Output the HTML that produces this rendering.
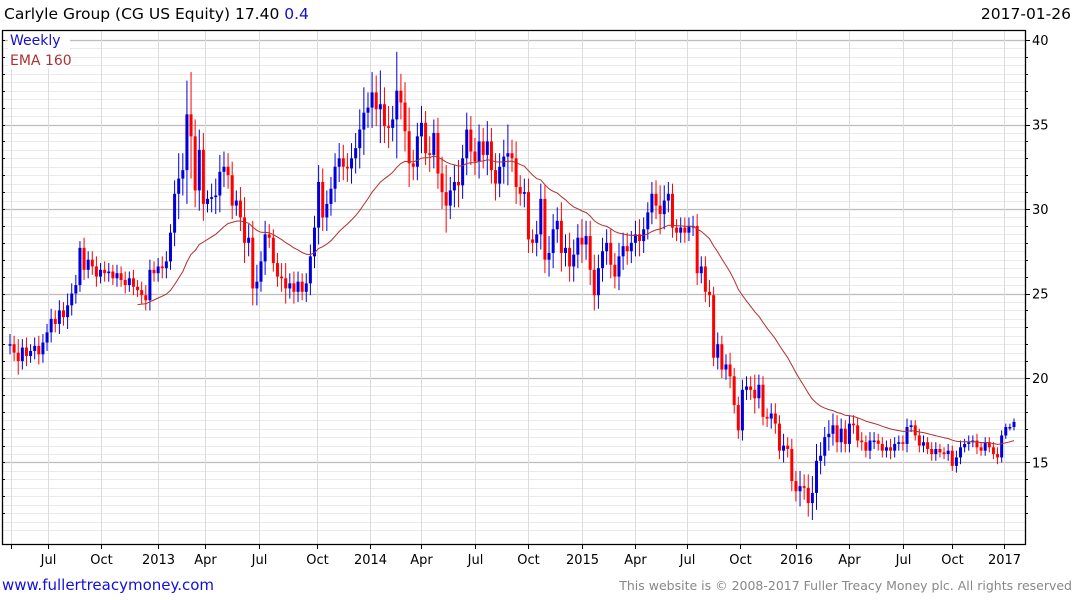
<!DOCTYPE html>
<html><head><meta charset="utf-8"><style>
html,body{margin:0;padding:0;background:#fff;}
body{width:1075px;height:600px;overflow:hidden;position:relative;font-family:"DejaVu Sans","Liberation Sans",sans-serif;}
svg{position:absolute;left:0;top:0;}
</style></head><body>
<svg id="chart" width="1075" height="600" viewBox="0 0 1075 600" xmlns="http://www.w3.org/2000/svg">
  <g id="grid"></g>
  <g id="candles"></g>
  <path id="ema" fill="none" stroke="#b03030" stroke-width="1"/>
  <rect x="8" y="31" width="62" height="38" fill="#fff"/>
  <text x="10" y="45" font-size="14" fill="#1010d0">Weekly</text>
  <text x="10" y="65" font-size="14" fill="#b03030">EMA 160</text>
  <g id="axes"></g>
  <text x="4" y="19" font-size="15.5" fill="#000">Carlyle Group (CG US Equity) 17.40 <tspan fill="#1010d0">0.4</tspan></text>
  <text x="1071" y="19" font-size="15.5" fill="#000" text-anchor="end">2017-01-26</text>
  <text x="2" y="590" font-size="15" fill="#1010e0">www.fullertreacymoney.com</text>
  <text x="1072" y="590" font-size="12.5" fill="#888" text-anchor="end">This website is © 2008-2017 Fuller Treacy Money plc. All rights reserved</text>
</svg>
<script>
const closes = [22.0,21.5,21.0,21.8,21.3,21.6,21.9,21.4,22.1,22.7,23.5,23.2,24.0,23.6,24.3,25.0,25.5,27.7,26.4,27.0,26.6,26.0,26.4,26.2,26.3,25.9,26.2,25.8,25.5,25.9,25.4,25.2,24.9,24.6,26.4,26.2,26.6,26.5,26.9,28.6,30.9,31.8,32.3,35.6,34.3,31.1,33.5,30.3,30.6,30.7,30.8,32.2,32.5,32.0,30.2,30.5,
29.5,28.0,28.3,25.3,25.7,26.9,28.5,28.3,26.8,26.0,25.9,25.3,25.6,25.1,25.7,25.1,25.6,27.2,28.9,31.6,29.5,30.3,31.2,32.5,33.0,32.5,32.4,33.0,33.6,34.7,35.7,36.0,36.9,
35.9,36.2,34.9,34.8,35.3,37.0,36.3,34.6,32.7,32.5,34.3,35.1,33.3,33.2,34.5,32.1,31.0,30.2,31.1,31.6,31.4,33.0,34.7,33.4,32.8,34.0,33.2,34.0,32.3,31.5,32.5,33.1,33.3,33.0,31.3,30.9,31.0,28.2,28.0,28.5,30.6,27.0,27.4,28.8,29.3,27.4,27.7,26.6,27.3,28.3,27.9,28.4,26.4,24.9,26.5,27.5,28.0,26.7,26.0,27.2,27.8,27.5,28.0,28.5,28.1,28.8,29.8,30.9,30.2,29.7,30.5,30.9,28.9,28.6,28.9,28.6,29.0,29.0,26.2,
26.6,25.1,24.9,21.2,22.0,20.5,20.8,20.1,18.4,16.9,19.3,19.5,19.3,18.8,19.6,17.7,17.6,17.9,17.3,15.7,16.0,15.8,13.9,13.3,13.6,13.5,12.6,13.2,15.1,15.4,16.5,16.7,17.2,16.2,17.0,16.1,17.3,17.2,16.3,16.2,15.7,16.3,16.3,16.1,15.7,15.9,15.7,16.1,16.2,16.1,17.1,17.2,16.6,16.0,16.2,15.8,15.5,15.8,15.6,15.5,15.7,14.8,15.3,15.9,16.1,16.2,16.3,15.9,15.7,16.2,15.9,15.5,15.3,16.6,17.1,17.1,17.4];
const wicks = [.6,.5,.8,.5,.6,.4,.5,.6,.5,.5,.6,.5,.6,.5,.7,.6,.6,.4,.6,.5,.5,.6,.4,.5,.5,.4,.5,.4,.5,.4,.5,.4,.5,.6,.6,.5,.5,.6,.6,.5,
.8,1.5,1.0,2.0,2.5,1.0,1.2,1.0,.5,.8,1.0,1.0,.9,.8,.8,.6,.8,1.2,.8,1.0,1.0,.6,.8,.6,.5,.6,.8,.9,.6,.7,.6,.5,.6,.7,.7,1.0,.8,.8,.7,.8,
.9,.8,.8,.9,.9,1.2,1.5,.9,1.2,1.0,2.0,1.0,1.2,.8,2.3,1.0,1.2,1.4,.8,.8,1.0,.7,1.0,.8,.9,1.0,1.6,.8,1.0,1.3,.8,1.0,.8,.8,1.0,.8,1.2,.8,1.0,.8,
1.0,1.7,.8,1.0,.7,.8,.8,.6,.8,.9,.8,1.0,.9,.8,1.1,.8,.9,.9,.8,1.1,.9,.9,.9,.8,.8,.8,.8,.7,.8,.8,.8,.7,.8,.9,.7,.6,.7,.8,1.2,.9,
.7,.6,.5,.6,.6,.5,.6,.7,.6,.6,.7,.5,.7,.5,.6,.7,.5,.5,.6,.6,.6,.9,.6,.5,.5,.6,.6,.5,.7,.5,.6,.6,.9,.7,.8,1.0,1.0,.8,.6,.8,
.7,.6,.6,.5,.5,.5,.4,.5,.4,.5,.5,.4,.4,.4,.5,.4,.4,.4,.5,.3,.3,.4,.4,.3,.4,.4,.3,.3,.4,.3,.4,.4,.3,.4,.3,.4,.3,.3,.3,.3,.4,.3,.2,.2,.2];
const yTicks = [15,20,25,30,35,40];
const monthLabels = ["","Jul","Oct","2013","Apr","Jul","Oct","2014","Apr","Jul","Oct","2015","Apr","Jul","Oct","2016","Apr","Jul","Oct","2017"];
const monthIdx = [0.2,9.3,22,36,47.5,60.5,74.5,87.5,100,113,126,139,152,164.5,177.5,191,204,217,229,241.5];
const emaPeriod = 32;

const NS="http://www.w3.org/2000/svg";
const L=2,R=1025,T=30,B=544;
const y = v => 40 + (40 - v) * 16.9;
const x = i => 10 + i * (1004 / (closes.length - 1));
function mk(tag, parent, attrs){const e=document.createElementNS(NS,tag);for(const k in attrs)e.setAttribute(k,attrs[k]);parent.appendChild(e);return e;}
const grid=document.getElementById('grid'), axes=document.getElementById('axes'), cg=document.getElementById('candles');

for(let v=11; v<=40.01; v+=0.5){
  const yy=Math.round(y(v))+0.5; if(yy<T||yy>B) continue;
  const major=Math.abs(v%5)<0.01;
  const ln=mk('line',grid,{x1:L,x2:R,y1:yy,y2:yy,stroke:major?'#bdbdbd':'#ebebeb','stroke-width':major?1.3:1});
  
  
}
monthIdx.forEach((mi,k)=>{
  const xx=Math.round(x(mi))+0.5;
  const g=mk('line',grid,{x1:xx,x2:xx,y1:T,y2:B,stroke:'#dcdcdc','stroke-width':1});
  
  
  const tk=mk('line',axes,{x1:xx,x2:xx,y1:B,y2:B+5,stroke:'#000'});
  
  
  if(monthLabels[k]){
    const t=mk('text',axes,{x:xx,y:564,'font-size':13,'text-anchor':'middle',fill:'#000'});
    t.textContent=monthLabels[k];
    
    
  }
});
for(let v=12; v<=40; v+=1){
  const yy=Math.round(y(v))+0.5;
  const tk=mk('line',axes,{x1:R,x2:R+(v%5===0?5:3),y1:yy,y2:yy,stroke:'#000'});
  
  
  const tl=mk('line',axes,{x1:L,x2:L+3,y1:yy,y2:yy,stroke:'#000'});
  
  
}
yTicks.forEach(v=>{
  const t=mk('text',axes,{x:1032,y:y(v)+5,'font-size':13,fill:'#000'});
  t.textContent=v;
  
  
});
const fr=mk('path',axes,{d:`M${L+0.5},${T+0.5} H${R+0.5} V${B+0.5} H${L+0.5} Z`,fill:'none',stroke:'#000','stroke-width':1.3});



closes.forEach((c,i)=>{
  const o = i>0 ? closes[i-1] : c;
  const hi = Math.max(o,c) + wicks[i], lo = Math.min(o,c) - wicks[i];
  const col = c>=o ? '#0000dd' : '#ff0000';
  const xx = x(i);
  const w=mk('line',cg,{x1:xx,x2:xx,y1:y(hi),y2:y(lo),stroke:col,'stroke-width':1});
  
  
  const top=y(Math.max(o,c)), bot=y(Math.min(o,c));
  const b=mk('rect',cg,{x:xx-1.5,y:top,width:3,height:Math.max(1.5,bot-top),fill:col});
  
  
});

const a = 2/(emaPeriod+1);
let ema = closes.slice(0,emaPeriod).reduce((s,v)=>s+v,0)/emaPeriod;
let d = `M${x(emaPeriod-1).toFixed(1)},${y(ema).toFixed(1)}`;
for(let i=emaPeriod;i<closes.length;i++){ ema = a*closes[i] + (1-a)*ema; d += ` L${x(i).toFixed(1)},${y(ema).toFixed(1)}`; }
document.getElementById('ema').setAttribute('d', d);
</script>
</body></html>
